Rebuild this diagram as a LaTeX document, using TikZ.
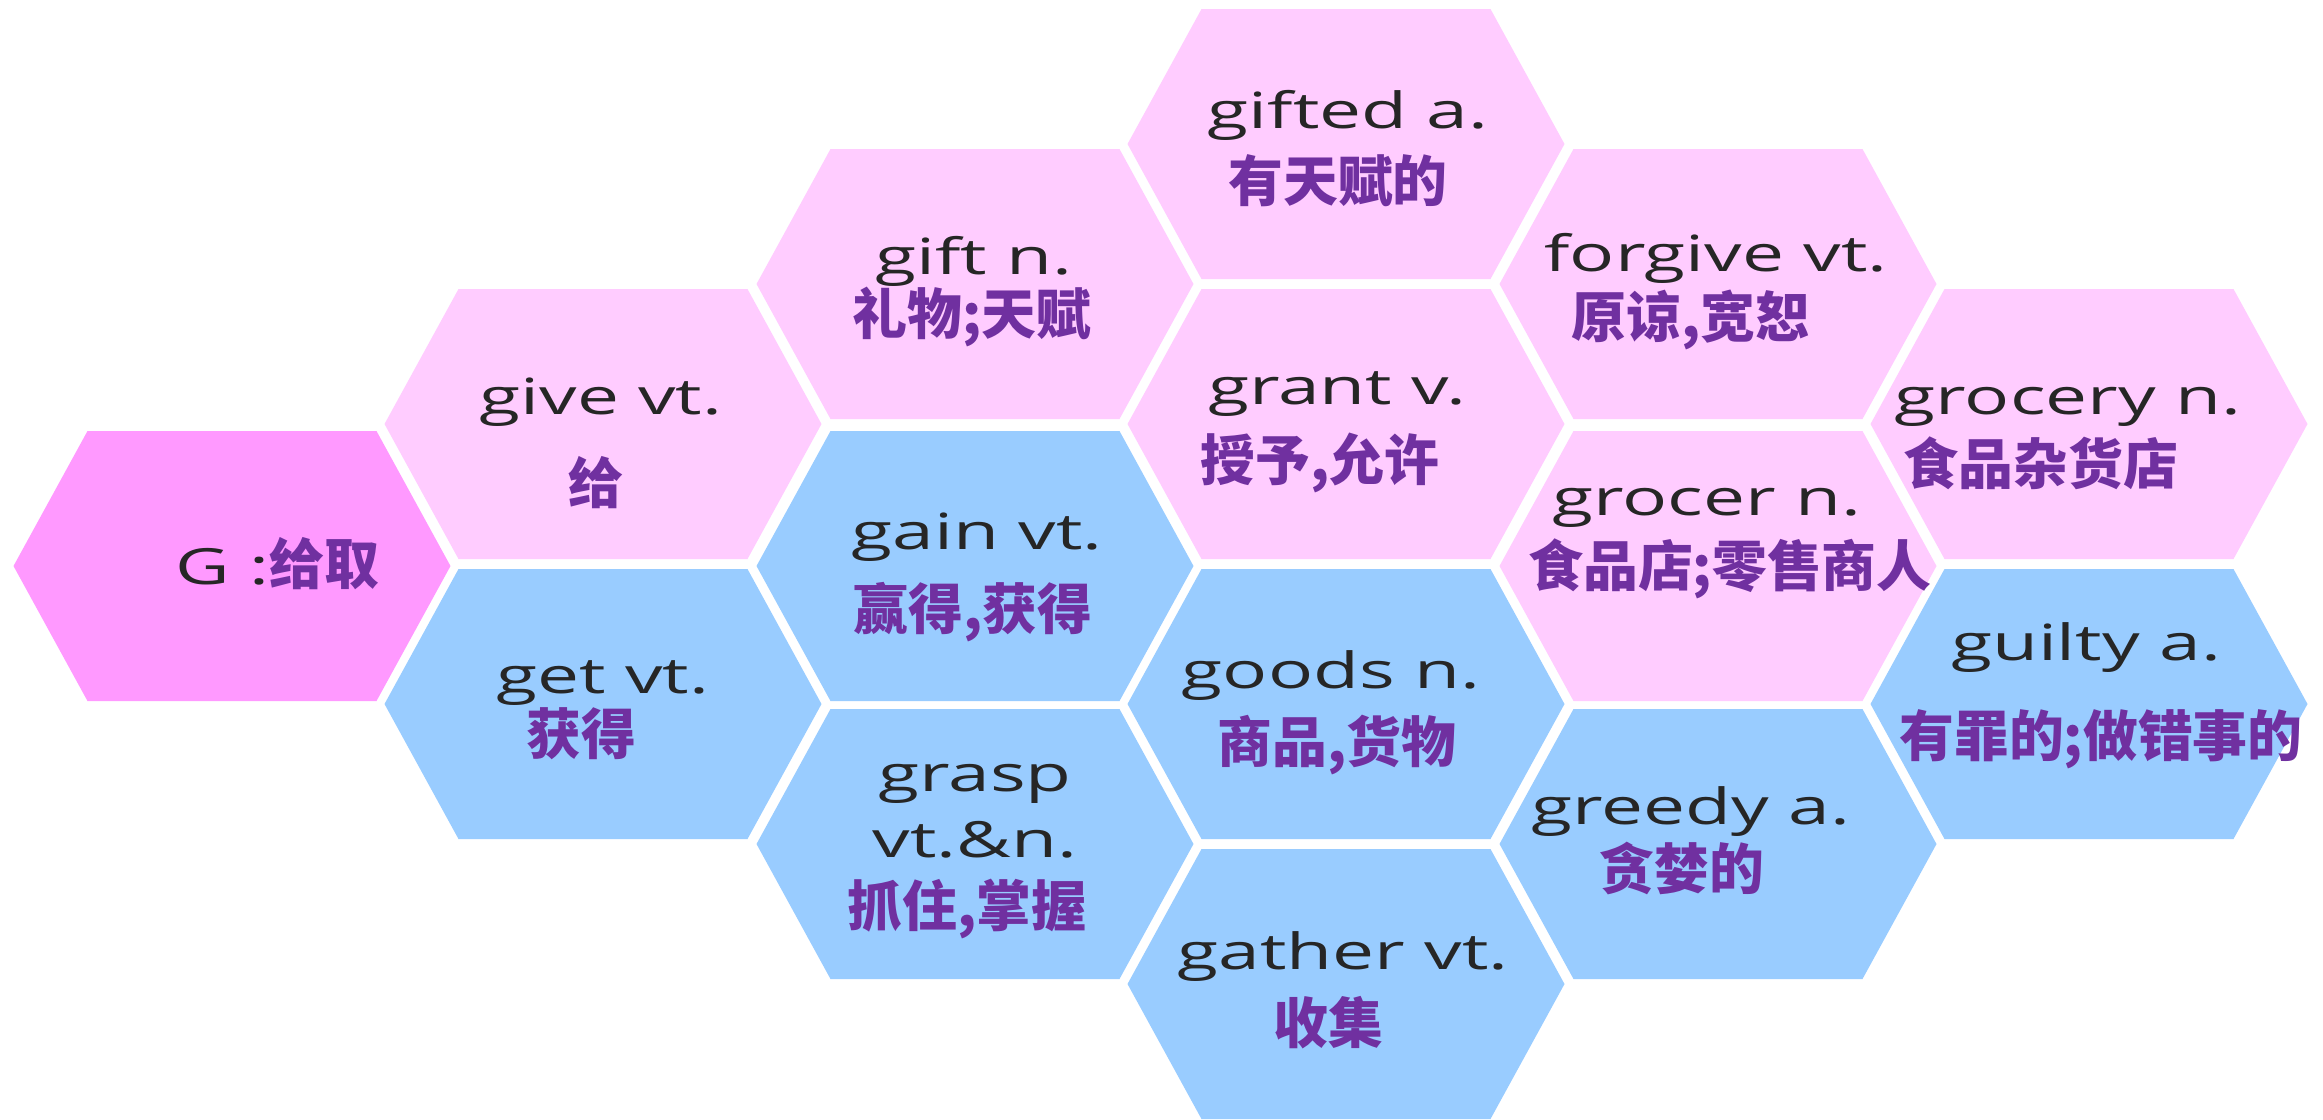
\documentclass[tikz,border=0pt]{standalone}
\usepackage{fontspec}
\newfontfamily\enfont[FakeStretch=1.5]{Open Sans}
\newfontfamily\cjk{Noto Sans CJK SC}
\definecolor{keypink}{RGB}{255,153,255}
\definecolor{lightpink}{RGB}{255,204,255}
\definecolor{lightblue}{RGB}{153,204,255}
\definecolor{wordgray}{RGB}{38,38,38}
\definecolor{cnpurple}{RGB}{112,48,160}
\begin{document}
\begin{tikzpicture}[keycell/.style={fill=keypink},
 pinkcell/.style={fill=lightpink},
 bluecell/.style={fill=lightblue},
 word/.style={anchor=base,inner sep=0pt,text=wordgray,font=\enfont\fontsize{14.2pt}{17pt}\selectfont},
 meaning/.style={inner sep=0pt,text height=0.45cm,text depth=0.03cm,text=cnpurple,font=\cjk\bfseries\fontsize{15.6pt}{18pt}\selectfont}]
 \useasboundingbox (0,0) rectangle (23.23,-11.19);
 \fill[white](0,0) rectangle (23.23,-11.19);
 % cells
 \fill[keycell,shift={(2.32,-5.66)}](-2.185,0)--(-1.445,1.35)--(1.445,1.35)--(2.185,0)--(1.445,-1.35)--(-1.445,-1.35)--cycle;
 \fill[pinkcell,shift={(6.03,-4.24)}](-2.185,0)--(-1.445,1.35)--(1.445,1.35)--(2.185,0)--(1.445,-1.35)--(-1.445,-1.35)--cycle;
 \fill[bluecell,shift={(6.03,-7.04)}](-2.185,0)--(-1.445,1.35)--(1.445,1.35)--(2.185,0)--(1.445,-1.35)--(-1.445,-1.35)--cycle;
 \fill[pinkcell,shift={(9.75,-2.84)}](-2.185,0)--(-1.445,1.35)--(1.445,1.35)--(2.185,0)--(1.445,-1.35)--(-1.445,-1.35)--cycle;
 \fill[bluecell,shift={(9.75,-5.66)}](-2.185,0)--(-1.445,1.35)--(1.445,1.35)--(2.185,0)--(1.445,-1.35)--(-1.445,-1.35)--cycle;
 \fill[bluecell,shift={(9.75,-8.44)}](-2.185,0)--(-1.445,1.35)--(1.445,1.35)--(2.185,0)--(1.445,-1.35)--(-1.445,-1.35)--cycle;
 \fill[pinkcell,shift={(13.46,-1.44)}](-2.185,0)--(-1.445,1.35)--(1.445,1.35)--(2.185,0)--(1.445,-1.35)--(-1.445,-1.35)--cycle;
 \fill[pinkcell,shift={(13.46,-4.24)}](-2.185,0)--(-1.445,1.35)--(1.445,1.35)--(2.185,0)--(1.445,-1.35)--(-1.445,-1.35)--cycle;
 \fill[bluecell,shift={(13.46,-7.04)}](-2.185,0)--(-1.445,1.35)--(1.445,1.35)--(2.185,0)--(1.445,-1.35)--(-1.445,-1.35)--cycle;
 \fill[bluecell,shift={(13.46,-9.84)}](-2.185,0)--(-1.445,1.35)--(1.445,1.35)--(2.185,0)--(1.445,-1.35)--(-1.445,-1.35)--cycle;
 \fill[pinkcell,shift={(17.18,-2.84)}](-2.185,0)--(-1.445,1.35)--(1.445,1.35)--(2.185,0)--(1.445,-1.35)--(-1.445,-1.35)--cycle;
 \fill[pinkcell,shift={(17.18,-5.66)}](-2.185,0)--(-1.445,1.35)--(1.445,1.35)--(2.185,0)--(1.445,-1.35)--(-1.445,-1.35)--cycle;
 \fill[bluecell,shift={(17.18,-8.44)}](-2.185,0)--(-1.445,1.35)--(1.445,1.35)--(2.185,0)--(1.445,-1.35)--(-1.445,-1.35)--cycle;
 \fill[pinkcell,shift={(20.89,-4.24)}](-2.185,0)--(-1.445,1.35)--(1.445,1.35)--(2.185,0)--(1.445,-1.35)--(-1.445,-1.35)--cycle;
 \fill[bluecell,shift={(20.89,-7.04)}](-2.185,0)--(-1.445,1.35)--(1.445,1.35)--(2.185,0)--(1.445,-1.35)--(-1.445,-1.35)--cycle;
 % words
 \node[word,anchor=base west](key) at (1.75,-5.84) {G :{\cjk\bfseries\color{cnpurple}\fontsize{15.6pt}{18pt}\selectfont 给取}};
 \node[word](give) at (6.01,-4.14) {give vt.};
 \node[meaning](givecn) at (5.96,-4.82) {给};
 \node[word](get) at (6.03,-6.93) {get vt.};
 \node[meaning](getcn) at (5.81,-7.33) {获得};
 \node[word](gift) at (9.74,-2.74) {gift n.};
 \node[meaning](giftcn) at (9.72,-3.13) {礼物;天赋};
 \node[word](gain) at (9.77,-5.49) {gain vt.};
 \node[meaning](gaincn) at (9.73,-6.08) {赢得,获得};
 \node[word](grasp) at (9.75,-7.91) {grasp};
 \node[word](grasppos) at (9.75,-8.57) {vt.\&n.};
 \node[meaning](graspcn) at (9.67,-9.05) {抓住,掌握};
 \node[word](gifted) at (13.48,-1.28) {gifted a.};
 \node[meaning](giftedcn) at (13.38,-1.80) {有天赋的};
 \node[word](grant) at (13.37,-4.04) {grant v.};
 \node[meaning](grantcn) at (13.20,-4.59) {授予,允许};
 \node[word](goods) at (13.31,-6.88) {goods n.};
 \node[meaning](goodscn) at (13.37,-7.41) {商品,货物};
 \node[word](gather) at (13.43,-9.69) {gather vt.};
 \node[meaning](gathercn) at (13.28,-10.22) {收集};
 \node[word](forgive) at (17.16,-2.71) {forgive vt.};
 \node[meaning](forgivecn) at (16.91,-3.16) {原谅,宽恕};
 \node[word](grocer) at (17.07,-5.15) {grocer n.};
 \node[meaning](grocercn) at (17.30,-5.65) {食品店;零售商人};
 \node[word](greedy) at (16.91,-8.24) {greedy a.};
 \node[meaning](greedycn) at (16.82,-8.68) {贪婪的};
 \node[word](grocery) at (20.68,-4.14) {grocery n.};
 \node[meaning](grocerycn) at (20.41,-4.63) {食品杂货店};
 \node[word](guilty) at (20.86,-6.60) {guilty a.};
 \node[meaning](guiltycn) at (21.01,-7.35) {有罪的;做错事的};
\end{tikzpicture}
\end{document}
